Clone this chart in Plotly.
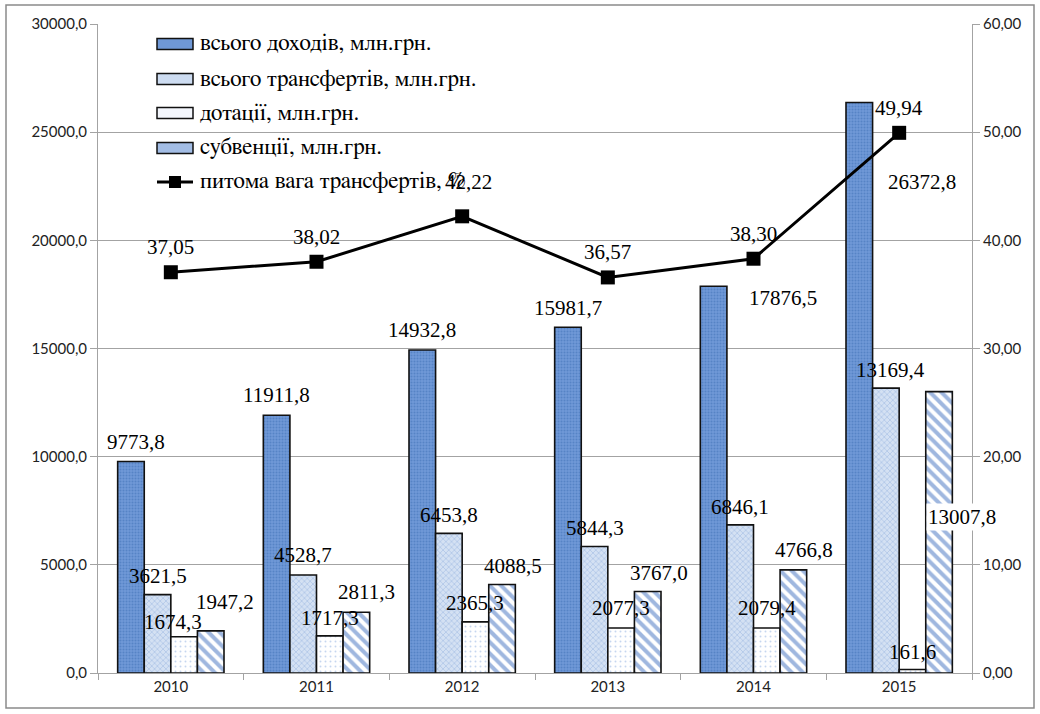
import plotly.graph_objects as go

years = ["2010", "2011", "2012", "2013", "2014", "2015"]

income = [9773.8, 11911.8, 14932.8, 15981.7, 17876.5, 26372.8]
transfers = [3621.5, 4528.7, 6453.8, 5844.3, 6846.1, 13169.4]
grants = [1674.3, 1717.3, 2365.3, 2077.3, 2079.4, 161.6]
subventions = [1947.2, 2811.3, 4088.5, 3767.0, 4766.8, 13007.8]
share = [37.05, 38.02, 42.22, 36.57, 38.30, 49.94]

names = [
    "всього доходів, млн.грн.",
    "всього трансфертів, млн.грн.",
    "дотації, млн.грн.",
    "субвенції, млн.грн.",
    "питома вага трансфертів, %",
]

left_ticks = [0, 5000, 10000, 15000, 20000, 25000, 30000]
left_ticktext = ["0,0", "5000,0", "10000,0", "15000,0", "20000,0", "25000,0", "30000,0"]
right_ticks = [0, 10, 20, 30, 40, 50, 60]
right_ticktext = ["0,00", "10,00", "20,00", "30,00", "40,00", "50,00", "60,00"]

# numeric positions for the year categories
pos = list(range(len(years)))
boundaries = [p - 0.5 for p in pos] + [pos[-1] + 0.5]


def fmt(v, digits):
    return f"{v:.{digits}f}".replace(".", ",")


SERIF = "Liberation Serif"
CYR_SERIF = "FreeSerif, Liberation Serif, serif"
SANS = "Lato"
EDGE = dict(color="#111111", width=1.6)

# plot area in pixels (figure is 1040 x 714)
W, H = 1040, 714
L, R, T, B = 98, 68, 24, 41
PW, PH = W - L - R, H - T - B


def px(x):
    return (x - L) / PW


def py(y):
    return (H - B - y) / PH


fig = go.Figure()

bar_styles = [
    dict(color="#6f98d6", pattern=dict(shape=".", fgcolor="#3d6db5", size=3, solidity=0.35)),
    dict(color="#d4e1f3", pattern=dict(shape="x", fgcolor="#7a9fd6", size=4, solidity=0.3)),
    dict(color="#ffffff", pattern=dict(shape=".", fgcolor="#8eaee0", size=5, solidity=0.12)),
    dict(color="#ffffff", pattern=dict(shape="\\", fgcolor="#3f70c0", size=8, solidity=0.5)),
]
swatch_fill = ["#6f98d6", "#cddcf1", "#f3f6fc", "#a3bde5"]
series = [income, transfers, grants, subventions]

for i, (vals, style) in enumerate(zip(series, bar_styles)):
    fig.add_trace(go.Bar(
        x=pos, y=vals, name=names[i],
        marker=dict(color=style["color"], pattern=style["pattern"], line=EDGE),
        yaxis="y",
    ))

fig.add_trace(go.Scatter(
    x=pos, y=share, name=names[4], yaxis="y2",
    mode="lines+markers",
    line=dict(color="black", width=3),
    marker=dict(symbol="square", size=14, color="black"),
))

# value labels: pixel offsets of each label from the top of its bar
bar_center = [-39.75, -13.25, 13.25, 39.75]
label_dx = [
    [5, 0, 0, 0, 69, 63],
    [0, 0, 0, 0, 0, 5],
    [-11, 0, 0, 0, 0, 0],
    [14, 10, 11, 11, 11, 23],
]
label_dy = [
    [20, 20, 20, 19, -12, -80],
    [19, 20, 18, 19, 18, 18],
    [15, 18, 19, 20, 20, 18],
    [29, 20, 19, 19, 20, -125],
]

annotations = []
shapes = []

for s, vals in enumerate(series):
    for j, v in enumerate(vals):
        ann = dict(
            x=pos[j], y=v, xref="x", yref="y", showarrow=False,
            text=fmt(v, 1),
            xshift=bar_center[s] + label_dx[s][j], yshift=label_dy[s][j],
            font=dict(family=SERIF, size=21, color="black"),
        )
        if s == 3 and j == 5:
            ann["bgcolor"] = "white"
        annotations.append(ann)

line_dx = [0, 0, 6, 0, 0, 0]
line_dy = [25, 25, 34, 25, 25, 25]
for j, v in enumerate(share):
    annotations.append(dict(
        x=pos[j], y=v, xref="x", yref="y2", showarrow=False,
        text=fmt(v, 2), xshift=line_dx[j], yshift=line_dy[j],
        font=dict(family=SERIF, size=21, color="black"),
    ))

# legend: swatches + captions inside the plot area
LEG_X0, LEG_X1, LEG_TEXT = 157, 193, 198
LEG_ROWS = [44, 79, 113, 148, 182]
for i, yc in enumerate(LEG_ROWS):
    if i < 4:
        shapes.append(dict(
            type="rect", xref="paper", yref="paper",
            x0=px(LEG_X0), x1=px(LEG_X1), y0=py(yc + 5.5), y1=py(yc - 5.5),
            fillcolor=swatch_fill[i], line=dict(color="#111111", width=1.5),
        ))
    else:
        shapes.append(dict(
            type="line", xref="paper", yref="paper",
            x0=px(LEG_X0), x1=px(LEG_X1), y0=py(yc), y1=py(yc),
            line=dict(color="black", width=3),
        ))
        shapes.append(dict(
            type="rect", xref="paper", yref="paper",
            x0=px(169), x1=px(181), y0=py(yc + 6), y1=py(yc - 6),
            fillcolor="black", line=dict(color="black", width=0),
        ))
    annotations.append(dict(
        x=px(LEG_TEXT), y=py(yc), xref="paper", yref="paper",
        xanchor="left", yanchor="middle", showarrow=False,
        text=names[i], font=dict(family=CYR_SERIF, size=23, color="black"),
    ))

# outer frame of the chart
shapes.append(dict(
    type="rect", xref="paper", yref="paper",
    x0=px(6), x1=px(1034), y0=py(708), y1=py(5),
    line=dict(color="#8a8a8a", width=1.5), fillcolor="rgba(0,0,0,0)",
    layer="above",
))

AXIS_GREY = "#a3a3a3"
TICK_FONT = dict(family=SANS, size=15, color="#222")

fig.update_layout(
    width=W, height=H,
    margin=dict(l=L, r=R, t=T, b=B),
    paper_bgcolor="white", plot_bgcolor="white",
    barmode="group", bargap=0.27, bargroupgap=0,
    showlegend=False,
    xaxis=dict(
        range=[-0.5, 5.5], tickvals=pos, ticktext=years, ticks="",
        showline=True, linecolor=AXIS_GREY, linewidth=1,
        minor=dict(tickvals=boundaries, ticks="outside", ticklen=6, tickcolor=AXIS_GREY),
        tickfont=TICK_FONT,
        showgrid=False, zeroline=False,
    ),
    yaxis=dict(
        range=[0, 30000], tickvals=left_ticks, ticktext=left_ticktext,
        showline=True, linecolor=AXIS_GREY, linewidth=1,
        ticks="outside", ticklen=7, tickcolor=AXIS_GREY,
        showgrid=True, gridcolor=AXIS_GREY, gridwidth=1, zeroline=False,
        tickfont=TICK_FONT,
    ),
    yaxis2=dict(
        range=[0, 60], tickvals=right_ticks, ticktext=right_ticktext,
        overlaying="y", side="right",
        showline=True, linecolor=AXIS_GREY, linewidth=1,
        ticks="outside", ticklen=7, tickcolor=AXIS_GREY,
        showgrid=False, zeroline=False,
        tickfont=TICK_FONT,
    ),
    annotations=annotations,
    shapes=shapes,
)

fig.write_html("out.html")
